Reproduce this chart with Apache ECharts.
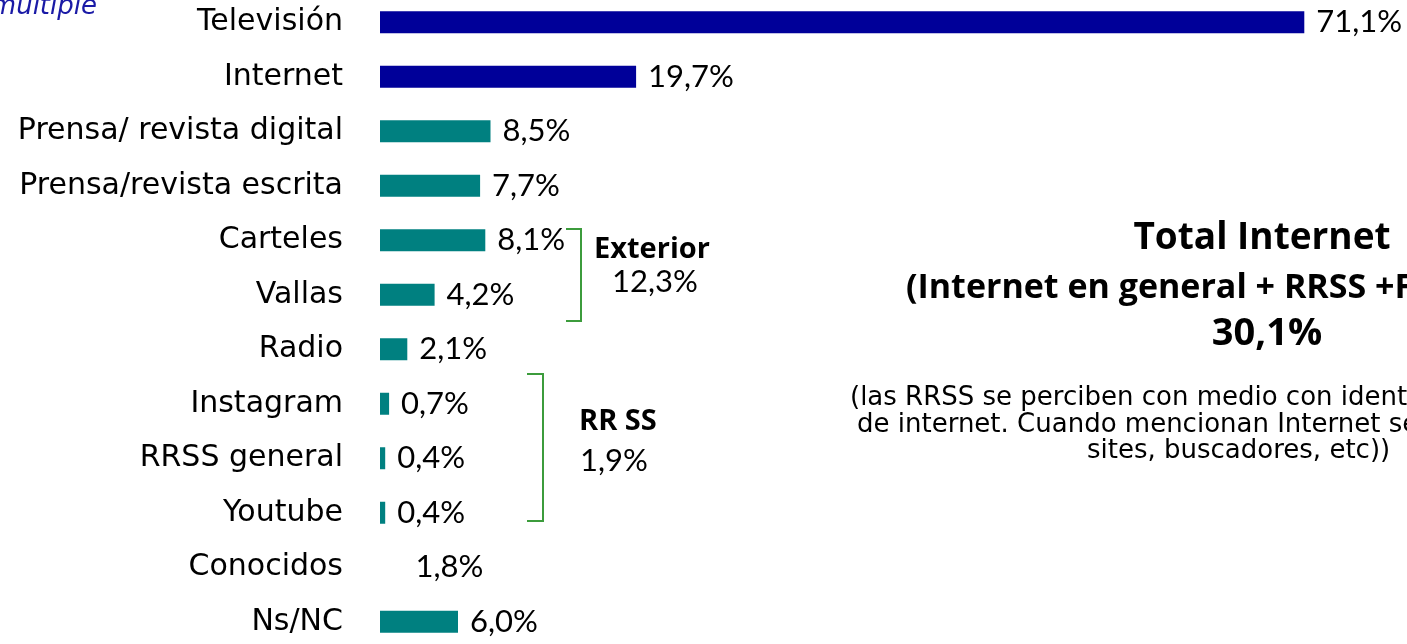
<!DOCTYPE html>
<html>
<head>
<meta charset="utf-8">
<script src="https://cdn.jsdelivr.net/npm/echarts@6/dist/echarts.min.js"></script>
<style>
  html, body { margin: 0; padding: 0; background: #fff; overflow: hidden; }
  /* el gráfico está recortado arriba y abajo en la diapositiva original */
  #chart { width: 1407px; height: 654px; margin-top: -5px; }
</style>
</head>
<body>
<div id="chart"></div>
<script>
// medios por los que se conoce (respuesta múltiple)
const categories = ['Televisión', 'Internet', 'Prensa/ revista digital', 'Prensa/revista escrita',
  'Carteles', 'Vallas', 'Radio', 'Instagram', 'RRSS general', 'Youtube', 'Conocidos', 'Ns/NC']
const values = [71.1, 19.7, 8.5, 7.7, 8.1, 4.2, 2.1, 0.7, 0.4, 0.4, 1.8, 6.0]
// color de cada barra: azul = medios principales, verde azulado = resto
const barColors = ['#000099', '#000099', '#008080', '#008080', '#008080', '#008080',
  '#008080', '#008080', '#008080', '#008080', 'transparent', '#008080']

const TEXT_FONT = 'DejaVu Sans'
const NUM_FONT = 'Lato'
const BOLD_FONT = 'Open Sans'

let chart = echarts.init(document.getElementById('chart'))

const fmt = v => v.toFixed(1).replace('.', ',') + '%'

const option = {
  backgroundColor: '#fff',
  animation: false,
  grid: {
    left: 380,
    right: 0,
    top: 0,
    bottom: 0
  },
  xAxis: {
    type: 'value',
    min: 0,
    max: 79,
    show: false
  },
  yAxis: {
    type: 'category',
    data: categories,
    inverse: true,
    axisLine: { show: false },
    axisTick: { show: false },
    axisLabel: {
      margin: 37,
      fontSize: 30,
      fontFamily: TEXT_FONT,
      color: '#000'
    }
  },
  series: [
    {
      type: 'bar',
      barWidth: 22,
      data: values.map((v, i) => ({
        value: v,
        itemStyle: { color: barColors[i] }
      })),
      label: {
        show: true,
        position: 'right',
        distance: 12,
        fontSize: 31,
        fontFamily: NUM_FONT,
        color: '#000',
        formatter: p => fmt(p.value)
      }
    }
  ],
  graphic: [{
    type: 'group',
    y: 5,
    children: [
      // texto cortado arriba a la izquierda
      { type: 'text', x: 97, y: 7,
        style: { text: 'Respuesta múltiple', font: 'italic 26px ' + TEXT_FONT, fill: '#1a1aa6', textAlign: 'right', textVerticalAlign: 'middle' } },
      // llaves
      { type: 'polyline', shape: { points: [[566, 229], [581, 229], [581, 321], [566, 321]] },
        style: { stroke: '#3c9c3c', lineWidth: 2, fill: null } },
      { type: 'polyline', shape: { points: [[527, 374], [543, 374], [543, 521], [527, 521]] },
        style: { stroke: '#3c9c3c', lineWidth: 2, fill: null } },
      { type: 'text', x: 594, y: 250,
        style: { text: 'Exterior', font: 'bold 29px ' + BOLD_FONT, fill: '#000', textVerticalAlign: 'middle' } },
      { type: 'text', x: 655, y: 282,
        style: { text: '12,3%', font: '31px ' + NUM_FONT, fill: '#000', textAlign: 'center', textVerticalAlign: 'middle' } },
      { type: 'text', x: 579, y: 422,
        style: { text: 'RR SS', font: 'bold 29px ' + BOLD_FONT, fill: '#000', textVerticalAlign: 'middle' } },
      { type: 'text', x: 580, y: 461,
        style: { text: '1,9%', font: '31px ' + NUM_FONT, fill: '#000', textVerticalAlign: 'middle' } },
      // bloque derecho
      { type: 'text', x: 1262, y: 238,
        style: { text: 'Total Internet', font: 'bold 37px ' + BOLD_FONT, fill: '#000', textAlign: 'center', textVerticalAlign: 'middle' } },
      { type: 'text', x: 906, y: 288,
        style: { text: '(Internet en general + RRSS +Foros)', font: 'bold 34px ' + BOLD_FONT, fill: '#000', textVerticalAlign: 'middle' } },
      { type: 'text', x: 1267, y: 334,
        style: { text: '30,1%', font: 'bold 38px ' + BOLD_FONT, fill: '#000', textAlign: 'center', textVerticalAlign: 'middle' } },
      { type: 'text', x: 850, y: 398,
        style: { text: '(las RRSS se perciben con medio con identidad propia, independiente', font: '26px ' + TEXT_FONT, fill: '#000', textVerticalAlign: 'middle' } },
      { type: 'text', x: 857, y: 425,
        style: { text: 'de internet. Cuando mencionan Internet se refieren a web', font: '26px ' + TEXT_FONT, fill: '#000', textVerticalAlign: 'middle' } },
      { type: 'text', x: 1087, y: 451,
        style: { text: 'sites, buscadores, etc))', font: '26px ' + TEXT_FONT, fill: '#000', textVerticalAlign: 'middle' } }
    ]
  }]
}

chart.setOption(option)
</script>
</body>
</html>
